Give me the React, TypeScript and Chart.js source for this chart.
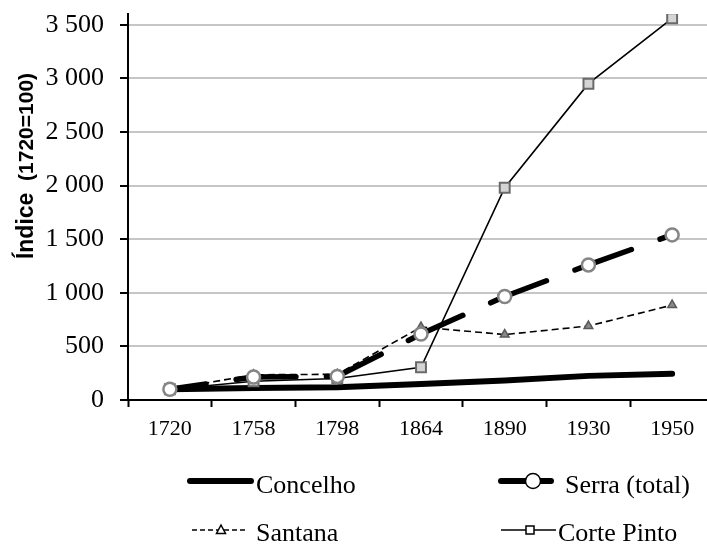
import React, { useEffect, useRef } from 'react';
import { Chart, registerables } from 'chart.js';

Chart.register(...registerables);

const years = ['1720', '1758', '1798', '1864', '1890', '1930', '1950'];
const concelho = [100, 112, 118, 150, 183, 225, 245];
const serraTotal = [100, 215, 220, 615, 965, 1260, 1540];
const santana = [100, 235, 240, 680, 610, 690, 885];
const cortePinto = [100, 175, 200, 305, 1980, 2950, 3560];
const yTickValues = [0, 500, 1000, 1500, 2000, 2500, 3000, 3500];
const seriesNames = ['Concelho', 'Serra (total)', 'Santana', 'Corte Pinto'];
const titleMain = 'Índice';
const titleSub = '(1720=100)';

const fmt = (v: number) =>
  v >= 1000 ? `${Math.floor(v / 1000)} ${String(v % 1000).padStart(3, '0')}` : String(v);

const SERIF = '"Liberation Serif", "Times New Roman", serif';
const SANS = '"Liberation Sans", Arial, sans-serif';

const titlePlugin = {
  id: 'yTitle',
  afterDraw(chart: any) {
    const ctx = chart.ctx as CanvasRenderingContext2D;
    ctx.save();
    ctx.fillStyle = '#000';
    ctx.textBaseline = 'alphabetic';
    ctx.textAlign = 'left';
    const f1 = `bold 23px ${SANS}`;
    const f2 = `bold 21px ${SANS}`;
    ctx.font = f1;
    const w1 = ctx.measureText(titleMain).width;
    ctx.font = f2;
    const gap = ctx.measureText('  ').width;
    const w2 = ctx.measureText(titleSub).width;
    const total = w1 + gap + w2;
    const cy = 166;
    ctx.translate(33, cy + total / 2);
    ctx.rotate(-Math.PI / 2);
    ctx.font = f1;
    ctx.fillText(titleMain, 0, 0);
    ctx.font = f2;
    ctx.fillText(titleSub, w1 + gap, 0);
    ctx.restore();
  },
};

function drawMarker(ctx: CanvasRenderingContext2D, kind: string, x: number, y: number) {
  ctx.save();
  ctx.fillStyle = '#fff';
  ctx.strokeStyle = '#000';
  ctx.lineWidth = 1.5;
  ctx.setLineDash([]);
  ctx.beginPath();
  if (kind === 'circle') {
    ctx.arc(x, y, 7.5, 0, Math.PI * 2);
  } else if (kind === 'triangle') {
    ctx.moveTo(x, y - 5);
    ctx.lineTo(x + 4.5, y + 3.5);
    ctx.lineTo(x - 4.5, y + 3.5);
    ctx.closePath();
  } else if (kind === 'rect') {
    ctx.rect(x - 4, y - 4, 8, 8);
  }
  ctx.fill();
  ctx.stroke();
  ctx.restore();
}

function drawSample(ctx: CanvasRenderingContext2D, x1: number, x2: number, y: number, width: number, dash: number[], cap: CanvasLineCap) {
  ctx.save();
  ctx.strokeStyle = '#000';
  ctx.lineWidth = width;
  ctx.lineCap = cap;
  ctx.setLineDash(dash);
  ctx.beginPath();
  ctx.moveTo(x1, y);
  ctx.lineTo(x2, y);
  ctx.stroke();
  ctx.restore();
}

const legendPlugin = {
  id: 'customLegend',
  afterDraw(chart: any) {
    const ctx = chart.ctx as CanvasRenderingContext2D;
    const row1 = 481;
    const row2 = 530;
    const base1 = 493;
    const base2 = 541;
    drawSample(ctx, 190, 251, row1, 6, [], 'round');
    drawSample(ctx, 501, 551, row1, 6, [], 'round');
    drawMarker(ctx, 'circle', 533, row1);
    drawSample(ctx, 192, 248, row2, 1.3, [5, 3], 'butt');
    drawMarker(ctx, 'triangle', 221, row2);
    drawSample(ctx, 501, 556, row2, 1.5, [], 'butt');
    drawMarker(ctx, 'rect', 530, row2);
    ctx.save();
    ctx.fillStyle = '#000';
    ctx.font = `26px ${SERIF}`;
    ctx.textAlign = 'left';
    ctx.textBaseline = 'alphabetic';
    ctx.fillText(seriesNames[0], 256, base1);
    ctx.fillText(seriesNames[1], 565, base1);
    ctx.fillText(seriesNames[2], 256, base2);
    ctx.fillText(seriesNames[3], 558, base2);
    ctx.restore();
  },
};

export default function App() {
  const ref = useRef<HTMLCanvasElement>(null);
  useEffect(() => {
    if (!ref.current) return;
    const chart = new Chart(ref.current, {
      type: 'line',
      data: {
        labels: years,
        datasets: [
          {
            label: seriesNames[0],
            data: concelho,
            borderColor: '#000',
            borderWidth: 6,
            borderCapStyle: 'round',
            borderJoinStyle: 'round',
            pointRadius: 0,
            tension: 0,
            order: 4,
          },
          {
            label: seriesNames[1],
            data: serraTotal,
            borderColor: '#000',
            borderWidth: 5.5,
            borderDash: [60, 30.5],
            borderDashOffset: 23.5,
            borderCapStyle: 'round',
            borderJoinStyle: 'round',
            pointStyle: 'circle',
            pointRadius: 6.5,
            pointBorderWidth: 2.5,
            pointBackgroundColor: '#ffffff',
            pointBorderColor: '#858585',
            tension: 0,
            order: 1,
          },
          {
            label: seriesNames[2],
            data: santana,
            borderColor: '#000',
            borderWidth: 1.6,
            borderDash: [7, 4],
            pointStyle: 'triangle',
            pointRadius: 5,
            pointBorderWidth: 1.5,
            pointBackgroundColor: '#8a8a8a',
            pointBorderColor: '#5a5a5a',
            tension: 0,
            order: 3,
          },
          {
            label: seriesNames[3],
            data: cortePinto,
            borderColor: '#000',
            borderWidth: 1.6,
            pointStyle: 'rect',
            pointRadius: 7,
            pointBorderWidth: 2,
            pointBackgroundColor: '#d4d4d4',
            pointBorderColor: '#6a6a6a',
            tension: 0,
            order: 2,
          },
        ],
      },
      options: {
        responsive: false,
        animation: false,
        devicePixelRatio: 1,
        layout: { padding: { top: 14, right: 8, left: 0, bottom: 0 } },
        plugins: {
          legend: { display: false },
          tooltip: { enabled: false },
          title: { display: false },
        },
        scales: {
          x: {
            type: 'category',
            offset: true,
            afterFit: (s: any) => {
              s.height = 145;
              s.paddingLeft = 0;
              s.paddingRight = 0;
            },
            ticks: {
              font: { family: SERIF, size: 22 },
              color: '#000',
              padding: 9,
              maxRotation: 0,
              autoSkip: false,
            },
            grid: {
              offset: true,
              drawOnChartArea: false,
              drawTicks: true,
              tickLength: 7,
              tickColor: '#000',
              tickWidth: 2,
              color: '#000',
            },
            border: { color: '#000', width: 2 },
          },
          y: {
            type: 'linear',
            min: 0,
            max: 3600,
            afterBuildTicks: (s: any) => {
              s.ticks = yTickValues.map((v) => ({ value: v }));
            },
            afterFit: (s: any) => {
              s.width = 128;
              s.paddingTop = 0;
              s.paddingBottom = 0;
            },
            ticks: {
              stepSize: 500,
              font: { family: SERIF, size: 26 },
              color: '#000',
              padding: 16,
              callback: (v: any) => fmt(Number(v)),
            },
            grid: {
              color: '#c6c6c6',
              lineWidth: 2,
              drawTicks: true,
              tickLength: 8,
              tickColor: '#000',
              tickWidth: 2,
            },
            border: { color: '#000', width: 2 },
          },
        },
      },
      plugins: [titlePlugin, legendPlugin],
    } as any);
    return () => chart.destroy();
  }, []);

  return (
    <div
      style={{
        position: 'fixed',
        left: 0,
        top: 0,
        width: 707,
        height: 545,
        overflow: 'hidden',
        background: '#fff',
      }}
    >
      <canvas ref={ref} width={723} height={545} style={{ display: 'block' }} />
    </div>
  );
}
